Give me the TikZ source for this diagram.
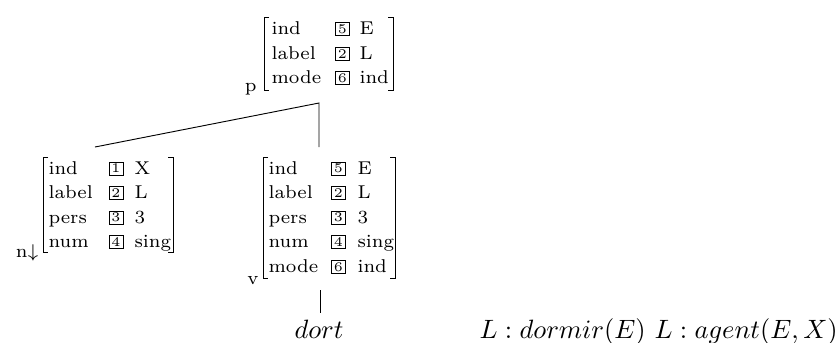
\documentclass[tikz,border=0pt]{standalone}
\begin{document}
\newcommand\AVMrow[8]{%
  \node[attrtext] (#1a) at (#3,#2+5.5) {#6};
  \node[idxbox] (#1b) at (#4,#2) {#7};
  \node[attrtext] (#1v) at (#5,#2+5.5) {#8};}
\newcommand\AVMbrk[4]{%
  \draw[brk] (#1+5,#3) -- (#1,#3) -- (#1,#4) -- (#1+5,#4);
  \draw[brk] (#2-5,#3) -- (#2,#3) -- (#2,#4) -- (#2-5,#4);}
\begin{tikzpicture}[x=0.37736pt,y=-0.37736pt,
  attrtext/.style={font=\scriptsize, inner sep=0pt, anchor=base west},
  idxbox/.style={draw, line width=0.35pt, font=\tiny, inner sep=0pt, minimum width=5.3pt, minimum height=4.9pt},
  lab/.style={font=\scriptsize, inner sep=0pt, anchor=base east},
  brk/.style={line width=0.32pt},
  branch/.style={line width=0.35pt}]
\useasboundingbox (0,0) rectangle (836,342);
% p
\AVMbrk{264}{393}{17}{90}
\AVMrow{p1}{29}{271}{342.5}{359}{ind}{5}{E}
\AVMrow{p2}{53.6}{271}{342.5}{359}{label}{2}{L}
\AVMrow{p3}{78.2}{271}{342.5}{359}{mode}{6}{ind}
\node[lab] (plab) at (257,91) {p};
% n
\AVMbrk{43}{173}{157}{252}
\AVMrow{n1}{168.5}{48}{116}{134}{ind}{1}{X}
\AVMrow{n2}{193.1}{48}{116}{134}{label}{2}{L}
\AVMrow{n3}{217.7}{48}{116}{134}{pers}{3}{3}
\AVMrow{n4}{242.3}{48}{116}{134}{num}{4}{sing}
\node[lab] (nlab) at (39,257) {n$\downarrow$};
% v
\AVMbrk{263}{395}{157}{278}
\AVMrow{v1}{168.5}{268}{338.5}{357}{ind}{5}{E}
\AVMrow{v2}{193.1}{268}{338.5}{357}{label}{2}{L}
\AVMrow{v3}{217.7}{268}{338.5}{357}{pers}{3}{3}
\AVMrow{v4}{242.3}{268}{338.5}{357}{num}{4}{sing}
\AVMrow{v5}{266.9}{268}{338.5}{357}{mode}{6}{ind}
\node[lab] (vlab) at (259,284) {v};
% tree
\coordinate (papex) at (319,103);
\coordinate (nroot) at (95,147);
\coordinate (vroot) at (319,147);
\draw[branch] (nroot) -- (papex) -- (vroot);
\coordinate (vfoot) at (320,290);
\node[inner sep=2.2pt, anchor=base] (dort) at (319,338) {$dort$};
\draw[branch] (vfoot) -- (vfoot |- dort.north);
\node[inner sep=0pt, anchor=base west] (sem) at (479,338) {$L:dormir(E)\ L:agent(E,X)$};
\end{tikzpicture}
\end{document}
